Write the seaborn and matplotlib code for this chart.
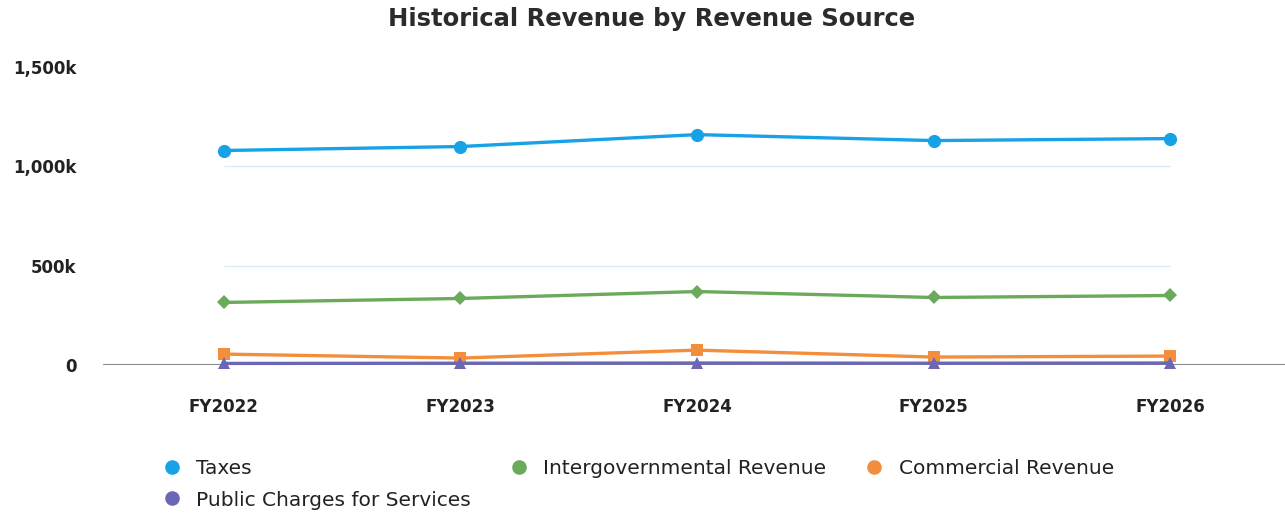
import matplotlib
matplotlib.use("Agg")
import matplotlib.pyplot as plt
from matplotlib.lines import Line2D
from matplotlib.ticker import FuncFormatter
import seaborn as sns
import pandas as pd

years = ["FY2022", "FY2023", "FY2024", "FY2025", "FY2026"]
taxes = [1080000, 1100000, 1160000, 1130000, 1140000]
intergovernmental = [315000, 335000, 370000, 340000, 350000]
commercial = [55000, 35000, 75000, 40000, 45000]
public_charges = [8000, 9000, 10000, 9000, 10000]

series_names = ["Taxes", "Intergovernmental Revenue", "Commercial Revenue",
                "Public Charges for Services"]
series_values = [taxes, intergovernmental, commercial, public_charges]
colors = ["#17a2e6", "#6aaa5a", "#f28e3c", "#6a68b6"]
markers = ["o", "D", "s", "^"]
marker_sizes = [9.5, 7, 9, 9]
y_ticks = [0, 500000, 1000000, 1500000]

sns.set_theme(style="white")
plt.rcParams["font.family"] = ["DejaVu Sans"]

df = pd.DataFrame(
    [(y, n, v) for n, vals in zip(series_names, series_values)
     for y, v in zip(years, vals)],
    columns=["year", "source", "value"],
)

fig = plt.figure(figsize=(12.85, 5.16), dpi=100)
ax = fig.add_axes([0.0802, 0.2926, 0.9198, 0.5774])

# faint reference lines over the span of the data
ax.hlines([500000, 1000000], 0, len(years) - 1, color="#dbeef8", lw=1, zorder=0)
ax.axhline(0, color="#8a8a8a", lw=1.5, zorder=1)

for name, color, mk, ms in zip(series_names, colors, markers, marker_sizes):
    sub = df[df["source"] == name]
    sns.lineplot(data=sub, x="year", y="value", ax=ax, color=color, lw=2.4,
                 marker=mk, markersize=ms, markeredgewidth=0, legend=False,
                 zorder=3, clip_on=False)

ax.set_xlim(-0.51, len(years) - 1 + 0.485)
ax.set_ylim(0, 1500000)
ax.set_yticks(y_ticks)
ax.yaxis.set_major_formatter(
    FuncFormatter(lambda v, p: "0" if v == 0 else f"{v/1000:,.0f}k"))
ax.set_xlabel("")
ax.set_ylabel("")
for s in ax.spines.values():
    s.set_visible(False)
ax.tick_params(axis="both", length=0, labelsize=12, colors="#222222")
ax.tick_params(axis="y", pad=19)
ax.tick_params(axis="x", pad=24)
for lbl in ax.get_xticklabels() + ax.get_yticklabels():
    lbl.set_fontweight("bold")

fig.text(0.507, 0.963, "Historical Revenue by Revenue Source", ha="center",
         va="center", fontsize=17.5, fontweight="bold", color="#2b2b2b")

handles = [Line2D([], [], ls="none", marker="o", markersize=10.5,
                  markerfacecolor=c, markeredgewidth=0) for c in colors]
order = [0, 3, 1, 2]
fig.legend([handles[i] for i in order], [series_names[i] for i in order],
           ncol=3, loc="upper left", bbox_to_anchor=(0.121, 0.126),
           frameon=False, fontsize=14.5, handletextpad=0.8, columnspacing=2.0,
           handlelength=0.8, labelspacing=0.62, borderaxespad=0,
           labelcolor="#222222")

fig.savefig("out.png", dpi=100)
